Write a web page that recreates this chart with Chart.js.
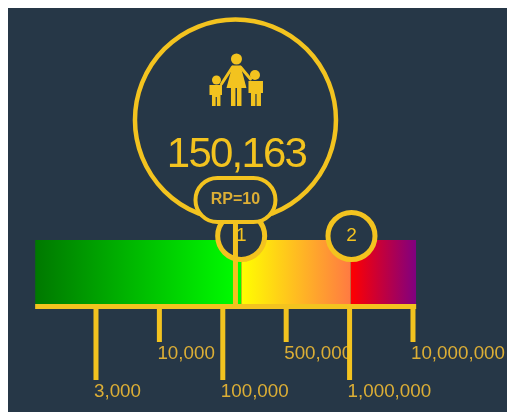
<!DOCTYPE html>
<html lang="en">
<head>
  <meta charset="UTF-8" />
  <title>Population exposure</title>
  <script src="https://cdn.jsdelivr.net/npm/chart.js"></script>
  <style>
    body { margin: 8px 0 0 8px; background: #fff; overflow: hidden; }
    canvas { display: block; background: #263747; }
  </style>
</head>
<body>
  <canvas id="chart" width="499" height="404"></canvas>

  <script>
    // x is the rank along the scale, not the value: ticks are evenly spaced
    const tickLabels = ['3,000', '10,000', '100,000', '500,000', '1,000,000', '10,000,000'];
    const tickRanks = [1, 2, 3, 4, 5, 6];
    const tickIsLong = [true, false, true, false, true, false];

    const bandStops = [0.04, 3.29, 5.02, 6.05];
    const bandColors = [['#007800', '#00ff00'], ['#ffff00', '#ff7a42'], ['#ff0000', '#800080']];

    const population = '150,163';
    const returnPeriod = 'RP=10';
    const rpRank = 3.2;
    const markerLabels = ['1', '2'];
    const markerRanks = [3.29, 5.03];

    const YELLOW = '#f3c31f';
    const LABEL = '#dcae35';
    const BG = '#263747';

    // y runs in canvas pixels from the top
    const BAND_TOP = 232, BAND_BOTTOM = 296, AXIS_Y = 298.5;
    const TICK_LONG = 372, TICK_SHORT = 334;
    const MARKER_Y = 228, BIG_Y = 112, STEM_TOP = 214;

    function bandFill(i) {
      return ctx => {
        const x = ctx.chart.scales.x;
        const x0 = x ? x.getPixelForValue(bandStops[i]) : NaN;
        const x1 = x ? x.getPixelForValue(bandStops[i + 1]) : NaN;
        if (!isFinite(x0) || !isFinite(x1)) return bandColors[i][0];
        const g = ctx.chart.ctx.createLinearGradient(x0, 0, x1, 0);
        g.addColorStop(0, bandColors[i][0]);
        g.addColorStop(1, bandColors[i][1]);
        return g;
      };
    }

    const line = (data, width) => ({
      type: 'scatter', showLine: true, data, borderColor: YELLOW, borderWidth: width,
      pointRadius: 0, clip: false
    });

    const tickLines = [];
    tickRanks.forEach((r, i) => {
      tickLines.push({ x: r, y: AXIS_Y }, { x: r, y: tickIsLong[i] ? TICK_LONG : TICK_SHORT }, { x: r, y: null });
    });

    const datasets = [
      line([{ x: rpRank, y: STEM_TOP }, { x: rpRank, y: AXIS_Y }], 5),
      line(tickLines, 5),
      line([{ x: bandStops[0], y: AXIS_Y }, { x: bandStops[3], y: AXIS_Y }], 5),
      {
        type: 'scatter', data: markerRanks.map(r => ({ x: r, y: MARKER_Y })),
        pointRadius: 23.5, pointBorderWidth: 5, pointBorderColor: YELLOW, pointBackgroundColor: BG, clip: false
      },
      {
        type: 'scatter', data: [{ x: rpRank, y: BIG_Y }],
        pointRadius: 100.5, pointBorderWidth: 4.5, pointBorderColor: YELLOW, pointBackgroundColor: BG, clip: false
      }
    ];
    bandColors.forEach((c, i) => {
      datasets.push({
        type: 'line', data: [{ x: bandStops[i], y: BAND_TOP }, { x: bandStops[i + 1], y: BAND_TOP }],
        fill: { value: BAND_BOTTOM }, backgroundColor: bandFill(i), borderWidth: 0, pointRadius: 0
      });
    });

    function drawFamily(c, cx) {
      c.fillStyle = YELLOW;
      c.strokeStyle = YELLOW;
      const dot = (x, y, r) => { c.beginPath(); c.arc(cx + x, y, r, 0, Math.PI * 2); c.fill(); };
      const poly = pts => {
        c.beginPath();
        pts.forEach((p, i) => i ? c.lineTo(cx + p[0], p[1]) : c.moveTo(cx + p[0], p[1]));
        c.closePath();
        c.fill();
      };
      // mother
      dot(1, 51, 5.5);
      poly([[-3, 57.5], [5, 57.5], [11, 80], [-9, 80]]);
      c.fillRect(cx - 4.5, 80, 4.5, 18);
      c.fillRect(cx + 1.5, 80, 4.5, 18);
      c.lineWidth = 3;
      c.lineCap = 'round';
      c.beginPath(); c.moveTo(cx - 3, 59); c.lineTo(cx - 14, 76); c.stroke();
      c.beginPath(); c.moveTo(cx + 5, 59); c.lineTo(cx + 15, 71); c.stroke();
      // child on the left
      dot(-19, 72, 4.5);
      poly([[-26, 77], [-13.5, 77], [-13.5, 87], [-15, 87], [-15, 98], [-23.5, 98], [-23.5, 87], [-26, 87]]);
      c.fillStyle = BG;
      c.fillRect(cx - 19.8, 89, 1.2, 9);
      c.fillStyle = YELLOW;
      // child on the right
      dot(19.5, 67, 5);
      poly([[13, 73], [27.5, 73], [27.5, 85], [25.5, 85], [25.5, 98], [15.5, 98], [15.5, 85], [13, 85]]);
      c.fillStyle = BG;
      c.fillRect(cx + 19.9, 86, 1.2, 12);
    }

    const textPlugin = {
      id: 'texts',
      beforeDatasetsDraw(chart) {
        const c = chart.ctx, x = chart.scales.x;
        c.save();
        c.fillStyle = LABEL;
        c.font = '18.8px "Liberation Sans", sans-serif';
        c.textAlign = 'left';
        c.textBaseline = 'middle';
        tickLabels.forEach((t, i) => {
          c.fillText(t, x.getPixelForValue(tickRanks[i]) - 2, tickIsLong[i] ? 384 : 346);
        });
        c.restore();
      },
      afterDatasetsDraw(chart) {
        const c = chart.ctx, x = chart.scales.x;
        const cx = x.getPixelForValue(rpRank);
        c.save();
        drawFamily(c, cx);
        c.fillStyle = YELLOW;
        c.textAlign = 'center';
        c.textBaseline = 'middle';
        c.font = '42px "Liberation Sans", sans-serif';
        c.letterSpacing = '-1.8px';
        c.fillText(population, cx + 1, 147);
        c.letterSpacing = '0px';
        // return period pill sits over the big circle and marker 1
        c.beginPath();
        c.roundRect(cx - 40, 170, 80, 44, 22);
        c.fillStyle = BG;
        c.fill();
        c.lineWidth = 4;
        c.strokeStyle = YELLOW;
        c.stroke();
        c.fillStyle = LABEL;
        c.font = 'bold 16px "Liberation Sans", sans-serif';
        c.fillText(returnPeriod, cx, 192);
        c.fillStyle = YELLOW;
        c.font = '19px "Liberation Sans", sans-serif';
        markerLabels.forEach((t, i) => {
          c.fillText(t, x.getPixelForValue(markerRanks[i]), MARKER_Y);
        });
        c.restore();
      }
    };

    new Chart(document.getElementById('chart').getContext('2d'), {
      type: 'scatter',
      data: { datasets },
      options: {
        responsive: false,
        animation: false,
        layout: { padding: 0, autoPadding: false },
        plugins: { legend: { display: false }, tooltip: { enabled: false } },
        scales: {
          x: { type: 'linear', min: -0.388, max: 7.483, display: false },
          y: { type: 'linear', min: 0, max: 404, reverse: true, display: false }
        }
      },
      plugins: [textPlugin]
    });
  </script>
</body>
</html>
